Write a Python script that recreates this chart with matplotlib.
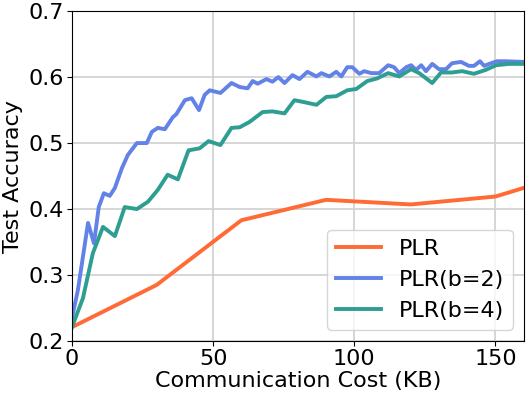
import matplotlib
matplotlib.use('Agg')
import matplotlib.pyplot as plt

# PLR baseline
plr_x = [0, 30, 60, 90, 120, 150, 160]
plr_y = [0.221, 0.285, 0.383, 0.414, 0.407, 0.419, 0.432]

# PLR(b=2)
b2_x = [0, 2.1, 5.7, 7.8, 9.5, 11.3, 13.4, 15.2, 17.7, 19.8, 23, 26.5, 28.3, 30.4,
        32.9, 35.7, 37, 40, 42.4, 45, 47, 48.8, 52.6, 56.5, 59.4, 62.2, 64, 65.8,
        68.9, 71, 73.1, 75.3, 78.1, 80.6, 83.4, 86.6, 88.3, 91.2, 93.6, 95.4, 97.5,
        99.3, 101.8, 103.5, 106, 108.8, 112, 114.1, 115.9, 118.4, 120.1, 121.9,
        123.7, 125.4, 127.6, 130, 132.5, 134.6, 137.8, 140.6, 142.4, 144.5, 146,
        148.4, 150.5, 153.7, 160]
b2_y = [0.235, 0.277, 0.379, 0.348, 0.403, 0.424, 0.42, 0.432, 0.462, 0.482, 0.5,
        0.5, 0.517, 0.523, 0.521, 0.539, 0.544, 0.565, 0.568, 0.55, 0.573, 0.58,
        0.576, 0.591, 0.585, 0.583, 0.594, 0.59, 0.597, 0.593, 0.6, 0.591, 0.603,
        0.597, 0.608, 0.601, 0.606, 0.601, 0.608, 0.601, 0.615, 0.615, 0.605,
        0.609, 0.606, 0.606, 0.618, 0.615, 0.606, 0.615, 0.618, 0.611, 0.618,
        0.609, 0.62, 0.612, 0.612, 0.621, 0.623, 0.617, 0.617, 0.624, 0.617,
        0.621, 0.624, 0.624, 0.623]

# PLR(b=4)
b4_x = [0, 3.9, 7.4, 11, 15.2, 18.7, 23, 26.9, 30.4, 33.9, 37.5, 41.3, 45.2, 48.4,
        52.6, 56.5, 59.4, 62.9, 67.5, 71, 75.3, 78.8, 82.3, 86.6, 90.1, 93.6, 97.5,
        100.7, 104.6, 108.1, 112, 115.9, 120.1, 123, 127.6, 130.7, 134.6, 138.2,
        142.4, 146.6, 150.2, 154.8, 160]
b4_y = [0.221, 0.265, 0.333, 0.373, 0.359, 0.403, 0.4, 0.411, 0.429, 0.452, 0.445,
        0.489, 0.492, 0.503, 0.497, 0.523, 0.524, 0.532, 0.547, 0.548, 0.545,
        0.565, 0.562, 0.558, 0.57, 0.571, 0.58, 0.582, 0.594, 0.598, 0.606, 0.601,
        0.612, 0.606, 0.591, 0.607, 0.607, 0.609, 0.605, 0.611, 0.618, 0.62, 0.62]

plt.rcParams['font.family'] = ['DejaVu Sans']

fig, ax = plt.subplots(figsize=(5.29, 3.97), dpi=100)
ax.plot(plr_x, plr_y, color='#ff6a35', lw=2.8, label='PLR')
ax.plot(b2_x, b2_y, color='#6282e8', lw=2.8, label='PLR(b=2)')
ax.plot(b4_x, b4_y, color='#2e9e92', lw=2.8, label='PLR(b=4)')

ax.set_xlim(0, 160)
ax.set_ylim(0.2, 0.7)
ax.set_xticks([0, 50, 100, 150])
ax.set_yticks([0.2, 0.3, 0.4, 0.5, 0.6, 0.7])
ax.grid(True, color='#d0d0d0', lw=1.2)
ax.set_axisbelow(True)
ax.tick_params(labelsize=16, pad=2)
ax.set_xlabel('Communication Cost (KB)', fontsize=16, labelpad=2)
ax.set_ylabel('Test Accuracy', fontsize=16, labelpad=4)
ax.legend(loc='lower right', fontsize=16, handlelength=2.0)

plt.subplots_adjust(left=0.136, right=0.99, top=0.972, bottom=0.141)
plt.savefig('out.png')
